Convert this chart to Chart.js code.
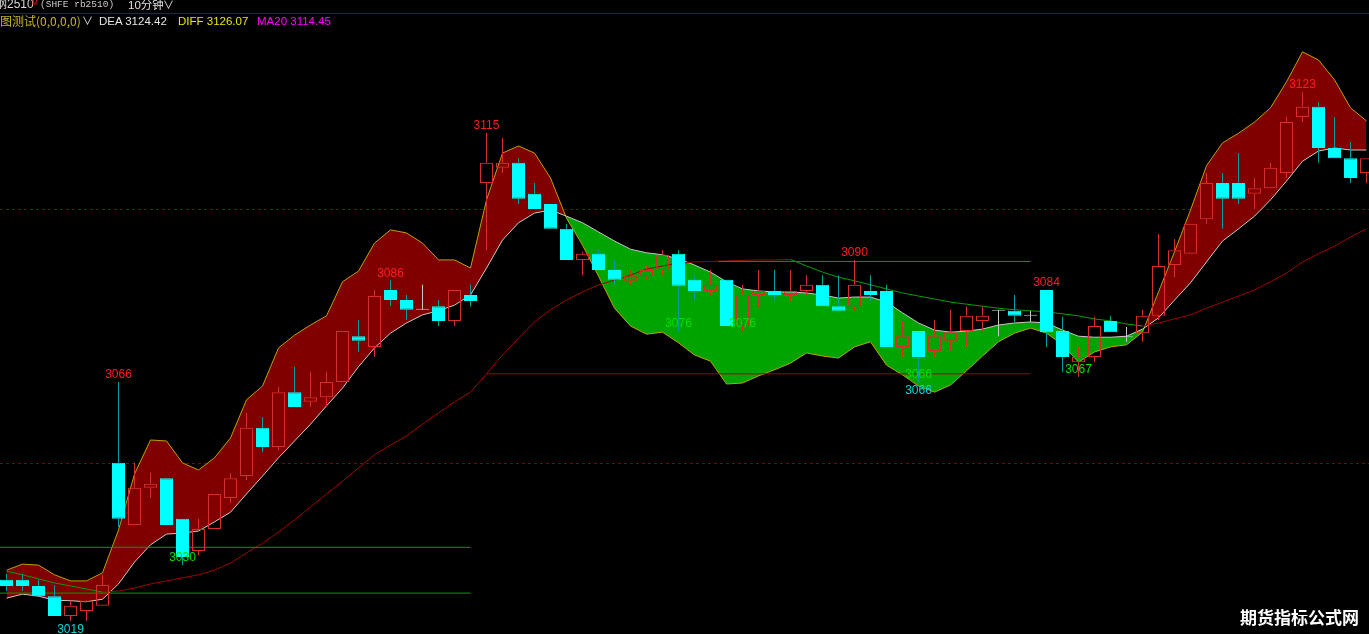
<!DOCTYPE html>
<html><head><meta charset="utf-8">
<script src="https://cdn.jsdelivr.net/npm/chart.js@4.4.1/dist/chart.umd.min.js"></script>
<style>
html,body{margin:0;padding:0;background:#000;overflow:hidden;}
#wrap{position:relative;width:1369px;height:634px;background:#000;}
#c{position:absolute;left:0;top:0;}
.t{position:absolute;white-space:nowrap;font-family:"Liberation Sans","Noto Sans CJK SC",sans-serif;font-size:12px;line-height:14px;}
</style></head><body>
<div id="wrap">
<canvas id="c" width="1369" height="634"></canvas>
<div class="t" style="left:-5px;top:-3px;color:#d8d8d8;">钢2510</div>
<div class="t" style="left:32px;top:-4px;color:#ff2020;font-size:7px;">M</div>
<div class="t" style="left:40px;top:-2px;color:#c8c8c8;font-family:'Liberation Mono',monospace;font-size:9.5px;">(SHFE rb2510)</div>
<div class="t" style="left:128px;top:-2px;color:#e0e0e0;font-size:11.5px;">10分钟</div>
<div class="t" style="left:163px;top:-2px;color:#e0e0e0;font-size:11px;">∨</div>
<div style="position:absolute;left:0;top:13px;width:1369px;height:1px;background:#800000;"></div>
<div class="t" style="left:0px;top:14px;color:#c8b428;font-family:'Noto Sans CJK SC',sans-serif;">图测试(0,0,0,0)</div>
<div class="t" style="left:82px;top:14px;color:#e0e0e0;font-size:11px;">∨</div>
<div class="t" style="left:99px;top:14px;color:#e6e6e6;font-size:11.5px;">DEA 3124.42</div>
<div class="t" style="left:178px;top:14px;color:#e6e600;font-size:11.5px;">DIFF 3126.07</div>
<div class="t" style="left:257px;top:14px;color:#ff00ff;font-size:11.5px;">MA20 3114.45</div>
<div class="t" style="left:1240px;top:607px;color:#ffffff;font-family:'Noto Sans CJK SC',sans-serif;font-weight:bold;font-size:17px;line-height:20px;">期货指标公式网</div>
</div>
<script>
// ---- data (prices) ----
const opens = [3027.1,3027.1,3025.9,3023.9,3020.0,3021.0,3022.0,3050.1,3037.9,3045.2,
3047.1,3039.1,3032.8,3037.1,3043.2,3047.5,3057.0,3053.2,3064.0,3062.1,
3063.0,3066.0,3075.0,3072.9,3084.1,3082.1,3080.2,3080.9,3078.0,3083.1,
3105.1,3108.1,3109.1,3103.0,3101.0,3096.1,3090.0,3091.2,3088.0,3085.9,
3086.8,3088.0,3091.2,3086.1,3083.9,3086.1,3077.0,3083.1,3083.9,3083.1,
3083.9,3085.1,3080.9,3080.9,3083.9,3083.9,3072.9,3076.0,3072.1,3074.1,
3076.0,3078.0,3080.0,3080.0,3079.0,3084.1,3076.0,3069.9,3070.9,3078.0,
3074.8,3075.6,3079.0,3089.0,3091.2,3098.0,3105.1,3105.1,3103.0,3104.1,
3107.1,3118.1,3120.1,3112.0,3110.0,3107.1];
const highs = [3028.3,3028.3,3027.1,3026.1,3023.0,3023.2,3028.1,3066.0,3050.1,3048.1,
3047.1,3039.1,3039.1,3044.0,3048.1,3059.9,3059.1,3065.0,3069.0,3068.0,
3068.0,3076.0,3078.2,3084.1,3086.0,3083.1,3085.1,3082.1,3084.1,3085.1,
3115.0,3114.0,3110.0,3105.1,3101.0,3097.1,3091.6,3091.9,3090.0,3088.0,
3089.0,3091.9,3091.9,3087.0,3088.0,3086.1,3085.1,3088.0,3088.0,3088.0,
3087.0,3087.0,3087.0,3090.0,3087.0,3085.1,3078.0,3076.0,3078.2,3080.2,
3080.9,3080.9,3080.2,3083.1,3080.0,3084.1,3078.8,3072.9,3078.8,3079.0,
3076.8,3080.2,3095.1,3094.1,3097.1,3107.1,3107.1,3111.0,3106.1,3109.1,
3118.1,3123.0,3121.0,3118.1,3113.2,3110.0];
const lows = [3024.9,3024.9,3023.9,3020.0,3019.0,3019.0,3022.0,3037.5,3037.9,3043.2,
3037.9,3030.0,3032.0,3037.1,3042.2,3046.7,3052.2,3052.6,3061.1,3061.1,
3061.1,3066.0,3071.9,3070.9,3080.9,3078.2,3080.2,3077.0,3077.0,3080.9,
3091.9,3107.1,3101.0,3100.0,3096.1,3090.0,3087.0,3088.0,3085.1,3085.1,
3086.1,3087.0,3076.0,3081.9,3083.1,3077.0,3076.0,3080.7,3081.9,3081.9,
3083.1,3080.9,3080.0,3080.0,3081.9,3072.9,3070.9,3066.0,3070.9,3072.1,
3072.9,3076.0,3075.0,3077.8,3077.8,3072.9,3068.0,3067.0,3069.9,3075.8,
3073.9,3073.9,3078.2,3086.6,3091.2,3097.1,3096.1,3101.0,3100.0,3104.1,
3106.1,3117.1,3109.1,3110.0,3105.1,3105.1];
const closes = [3025.9,3025.9,3023.9,3020.0,3022.0,3023.0,3026.1,3039.1,3045.2,3046.0,
3037.9,3031.6,3037.1,3044.0,3047.1,3057.0,3053.2,3064.0,3061.1,3063.0,
3066.0,3076.0,3074.1,3082.9,3082.1,3080.2,3080.2,3078.0,3084.1,3081.9,
3109.1,3109.1,3102.0,3100.0,3096.1,3090.0,3091.2,3088.0,3086.1,3086.8,
3088.0,3091.0,3084.9,3083.9,3085.1,3077.0,3083.1,3083.9,3083.1,3083.9,
3085.1,3080.9,3080.0,3085.1,3083.1,3072.9,3075.0,3070.9,3075.0,3075.8,
3079.0,3079.0,3080.0,3079.0,3079.0,3075.8,3070.9,3070.9,3077.0,3075.8,
3074.8,3079.0,3088.8,3091.9,3097.1,3105.1,3102.0,3102.0,3104.1,3108.1,
3117.1,3120.1,3112.0,3110.0,3106.1,3110.0];
const diffVals = [3029.0,3030.2,3030.0,3028.1,3026.9,3026.9,3028.5,3036.9,3047.9,3054.6,
3054.4,3050.1,3048.7,3051.1,3055.0,3062.5,3065.2,3072.7,3075.2,3077.2,
3079.0,3085.7,3087.8,3093.3,3095.9,3095.3,3093.3,3090.0,3090.0,3088.4,
3101.8,3111.0,3112.4,3111.0,3106.1,3098.2,3092.9,3086.8,3080.5,3077.0,
3075.4,3075.8,3073.7,3071.3,3070.1,3065.6,3065.8,3067.2,3068.4,3069.7,
3071.7,3071.1,3070.7,3072.9,3073.9,3069.3,3067.4,3065.2,3064.0,3065.4,
3068.2,3071.1,3073.9,3075.6,3076.6,3075.6,3073.3,3069.9,3071.9,3072.9,
3073.3,3075.8,3083.7,3091.6,3099.8,3108.5,3113.0,3114.9,3117.1,3119.9,
3125.0,3130.9,3129.3,3125.4,3119.9,3117.3];
const deaVals = [3023.5,3024.3,3023.9,3023.1,3023.0,3022.8,3023.3,3026.3,3030.6,3034.0,
3036.1,3036.3,3036.7,3038.5,3040.4,3044.0,3047.5,3051.1,3054.4,3057.7,
3061.3,3064.8,3069.0,3072.7,3075.6,3077.6,3079.2,3080.0,3081.1,3083.1,
3088.4,3093.9,3097.3,3099.2,3099.8,3098.6,3097.3,3095.5,3093.7,3092.1,
3091.4,3091.0,3090.2,3089.0,3087.6,3085.7,3084.3,3083.9,3083.7,3083.7,
3083.5,3083.1,3082.5,3082.7,3082.7,3081.7,3079.6,3077.6,3076.2,3075.8,
3076.0,3076.4,3077.2,3077.6,3077.8,3077.6,3076.2,3075.0,3074.8,3074.8,
3075.0,3076.4,3078.6,3082.1,3085.5,3089.6,3093.7,3096.1,3098.6,3101.8,
3105.5,3109.4,3111.4,3112.0,3111.6,3111.6];
const ma20Vals = [3028.8,3028.1,3027.3,3026.5,3025.9,3025.3,3024.7,3024.9,3025.5,3026.3,
3026.9,3027.5,3028.1,3029.0,3030.4,3032.4,3034.3,3036.5,3038.9,3041.4,
3044.0,3046.5,3049.1,3051.7,3053.6,3055.4,3057.7,3059.9,3062.1,3064.0,
3067.6,3071.3,3074.6,3077.8,3080.2,3082.1,3083.7,3085.1,3086.0,3087.0,
3088.2,3088.8,3089.4,3089.6,3089.7,3089.8,3089.9,3090.0,3090.0,3090.1,
3088.8,3087.6,3086.6,3085.9,3085.1,3084.3,3083.5,3082.9,3082.3,3081.7,
3081.3,3080.9,3080.5,3080.2,3080.0,3079.8,3079.4,3079.0,3078.4,3078.0,
3077.4,3077.0,3077.6,3078.4,3079.2,3080.5,3081.7,3082.9,3084.1,3085.7,
3087.4,3089.6,3091.2,3092.7,3094.5,3096.1];
const gridLevels = [3050, 3100];
const levelValues = [3033.5, 3024.5, 3067.6, 3089.7];
const levelFrom = [-1, -1, 30, 44.5];
const levelTo = [29, 29, 64, 64];
const labelIdx = [7, 4, 11, 24, 30, 42, 46, 53, 57, 57, 65, 67, 81];
const labelKind = ['high','lowB','lowA','high','high','lowA','lowA','high','lowA','lowB','high','lowA','high'];

// ---- styles ----
const UP = 'rgb(215,45,45)', DOWN = '#00ffff', DOWN_WICK = '#00a0a0', DOJI = '#c8c8c8';
const levelColors = ['#00a000', '#00a000', '#a00000', '#00a000'];
const kindStyle = { high: ['#ff1e1e', -7], lowA: ['#00e000', -7], lowB: ['#00d8d8', 9] };

const idx = opens.map((_, i) => i);
const pts = arr => arr.map((v, i) => ({ x: i, y: v }));
const kind = i => closes[i] > opens[i] ? 'up' : (closes[i] < opens[i] ? 'down' : 'doji');
const bodyFill = idx.map(i => kind(i) === 'up' ? 'rgba(0,0,0,0)' : kind(i) === 'down' ? DOWN : DOJI);
const bodyLine = idx.map(i => kind(i) === 'up' ? UP : kind(i) === 'down' ? DOWN : DOJI);
const wickCol = idx.map(i => kind(i) === 'up' ? UP : kind(i) === 'down' ? DOWN_WICK : DOJI);

const levelSets = levelValues.map((v, k) => ({
  type: 'line', data: [{ x: levelFrom[k], y: v }, { x: levelTo[k], y: v }],
  borderColor: levelColors[k], borderWidth: 1, pointRadius: 0, fill: false, order: 2
}));

const datasets = [
  { type: 'line', label: 'DIFF', data: pts(diffVals), borderColor: '#bea000', borderWidth: 1,
    pointRadius: 0, tension: 0, fill: { target: 1, above: '#800000', below: '#00a400' }, order: 6 },
  { type: 'line', label: 'DEA', data: pts(deaVals), borderColor: '#c8c8c8', borderWidth: 1,
    pointRadius: 0, tension: 0, fill: false, order: 5 },
  { type: 'line', label: 'MA20', data: pts(ma20Vals), borderColor: '#a00000', borderWidth: 1,
    pointRadius: 0, tension: 0, fill: false, order: 4,
    segment: { borderColor: c => c.p1.parsed.y >= c.p0.parsed.y ? '#a00000' : '#00a000' } },
  ...levelSets,
  { type: 'bar', label: 'upperWick', data: idx.map(i => ({ x: i, y: [Math.max(opens[i], closes[i]), highs[i]] })),
    backgroundColor: wickCol, borderWidth: 0, barThickness: 1, grouped: false, inflateAmount: 0, order: 1 },
  { type: 'bar', label: 'lowerWick', data: idx.map(i => ({ x: i, y: [lows[i], Math.min(opens[i], closes[i])] })),
    backgroundColor: wickCol, borderWidth: 0, barThickness: 1, grouped: false, inflateAmount: 0, order: 1 },
  { type: 'bar', label: 'body', data: idx.map(i => ({ x: i, y: [opens[i], closes[i]] })),
    backgroundColor: bodyFill, borderColor: bodyLine, borderWidth: 1, borderSkipped: false,
    barThickness: 13, minBarLength: 1, grouped: false, inflateAmount: 0, order: 0 }
];

const labelPlugin = {
  id: 'hlLabels',
  afterDatasetsDraw(chart) {
    const { ctx, scales: { x, y } } = chart;
    ctx.save();
    ctx.font = '12px "Liberation Sans", Arial, sans-serif';
    ctx.textAlign = 'center';
    ctx.textBaseline = 'middle';
    labelIdx.forEach((i, k) => {
      const kd = labelKind[k];
      const v = kd === 'high' ? highs[i] : lows[i];
      const [col, off] = kindStyle[kd];
      ctx.fillStyle = col;
      ctx.fillText(String(Math.round(v)), x.getPixelForValue(i), y.getPixelForValue(v) + off);
    });
    ctx.restore();
  }
};

new Chart(document.getElementById('c'), {
  type: 'bar',
  data: { datasets },
  options: {
    responsive: false, animation: false, events: [],
    layout: { padding: 0 },
    plugins: { legend: { display: false }, tooltip: { enabled: false } },
    scales: {
      x: { type: 'linear', min: -0.40625, max: 85.15625, offset: false, display: false },
      y: { type: 'linear', min: 3016.46, max: 3141.09, beginAtZero: false, display: true,
           ticks: { display: false }, grid: { color: '#800000', drawTicks: false, lineWidth: 1 },
           border: { display: false, dash: [3, 3] },
           afterBuildTicks: s => { s.ticks = gridLevels.map(v => ({ value: v })); } }
    }
  },
  plugins: [labelPlugin]
});
</script>
</body></html>
